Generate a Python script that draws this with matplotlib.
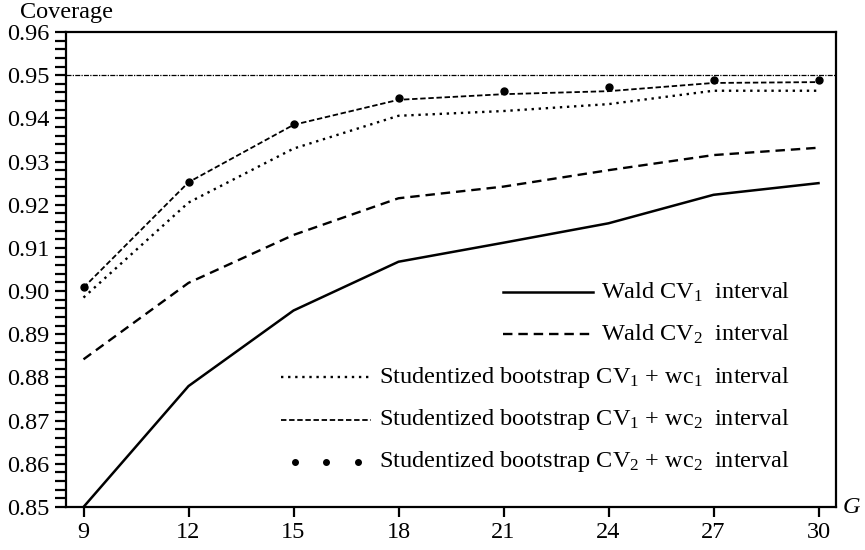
import matplotlib
matplotlib.use("Agg")
import matplotlib.pyplot as plt
from matplotlib.ticker import MultipleLocator

plt.rcParams['font.family'] = ['Liberation Serif', 'DejaVu Serif']
plt.rcParams['mathtext.fontset'] = 'custom'
plt.rcParams['mathtext.rm'] = 'Liberation Serif'
plt.rcParams['mathtext.it'] = 'Liberation Serif:italic'
plt.rcParams['mathtext.default'] = 'regular'

# data
G = [9, 12, 15, 18, 21, 24, 27, 30]
wald_cv1 = [0.8500, 0.8780, 0.8955, 0.9068, 0.9112, 0.9157, 0.9223, 0.9250]
wald_cv2 = [0.8842, 0.9019, 0.9130, 0.9215, 0.9242, 0.9280, 0.9315, 0.9332]
boot_cv1_wc1 = [0.8985, 0.9205, 0.9330, 0.9406, 0.9417, 0.9433, 0.9464, 0.9464]
boot_cv1_wc2 = [0.9008, 0.9252, 0.9385, 0.9443, 0.9456, 0.9463, 0.9482, 0.9484]
boot_cv2_wc2 = [0.9009, 0.9253, 0.9387, 0.9448, 0.9463, 0.9472, 0.9490, 0.9489]
nominal = 0.95

labels = ['Wald CV$_1$  interval',
          'Wald CV$_2$  interval',
          'Studentized bootstrap CV$_1$ + wc$_1$  interval',
          'Studentized bootstrap CV$_1$ + wc$_2$  interval',
          'Studentized bootstrap CV$_2$ + wc$_2$  interval']

FS = 17.5


def main():
    fig = plt.figure(figsize=(8.65, 5.5), dpi=100)
    ax = fig.add_axes([0.0763, 0.0782, 0.8902, 0.8636])

    ax.axhline(nominal, color='black', lw=0.9, ls=(0, (4, 1, 1, 1)))

    styles = [
        dict(ls='-', lw=1.8),
        dict(ls=(0, (4, 2.5)), lw=1.7),
        dict(ls=(0, (1, 2)), lw=1.7),
        dict(ls=(0, (3, 1.5)), lw=1.3),
    ]
    series = [wald_cv1, wald_cv2, boot_cv1_wc1, boot_cv1_wc2]
    for ys, st in zip(series, styles):
        ax.plot(G, ys, color='black', **st)
    ax.plot(G, boot_cv2_wc2, 'o', color='black', ms=5)

    ax.set_xlim(8.5, 30.5)
    ax.set_ylim(0.85, 0.96)
    ax.set_xticks(G)
    ax.yaxis.set_major_locator(MultipleLocator(0.01))
    ax.yaxis.set_minor_locator(MultipleLocator(0.002))
    ax.set_yticklabels(['%.2f' % v for v in ax.get_yticks()])
    ax.tick_params(axis='both', which='both', direction='out', width=1.6, labelsize=FS)
    ax.tick_params(axis='y', which='both', length=8, pad=4)
    ax.tick_params(axis='x', which='major', length=7)
    for sp in ax.spines.values():
        sp.set_linewidth(1.6)

    fig.text(0.023, 0.978, 'Coverage', fontsize=FS, va='center', ha='left')
    fig.text(0.974, 0.077, 'G', fontsize=FS, style='italic', va='center', ha='left')

    # legend drawn by hand: text right aligned, handle to the left
    fig.canvas.draw()
    rend = fig.canvas.get_renderer()
    row_y = [292, 334, 377, 420, 462]
    x_right = 790
    inv = ax.transAxes.inverted()
    for i, lab in enumerate(labels):
        yp = 550 - row_y[i]
        t = ax.text(*inv.transform((x_right, yp)), lab, transform=ax.transAxes,
                    ha='right', va='center', fontsize=FS)
        bb = t.get_window_extent(rend)
        x1 = bb.x0 - 8
        x0 = x1 - 90
        (ax0, ay), (ax1, _) = inv.transform([(x0, yp), (x1, yp)])
        if i < 4:
            ax.plot([ax0, ax1], [ay, ay], color='black', transform=ax.transAxes,
                    clip_on=False, **styles[i])
        else:
            xs = [ax0 + (ax1 - ax0) * f for f in (0.15, 0.5, 0.85)]
            ax.plot(xs, [ay] * 3, 'o', color='black', ms=4, transform=ax.transAxes,
                    clip_on=False)

    fig.savefig('out.png', dpi=100)


if __name__ == '__main__':
    main()
